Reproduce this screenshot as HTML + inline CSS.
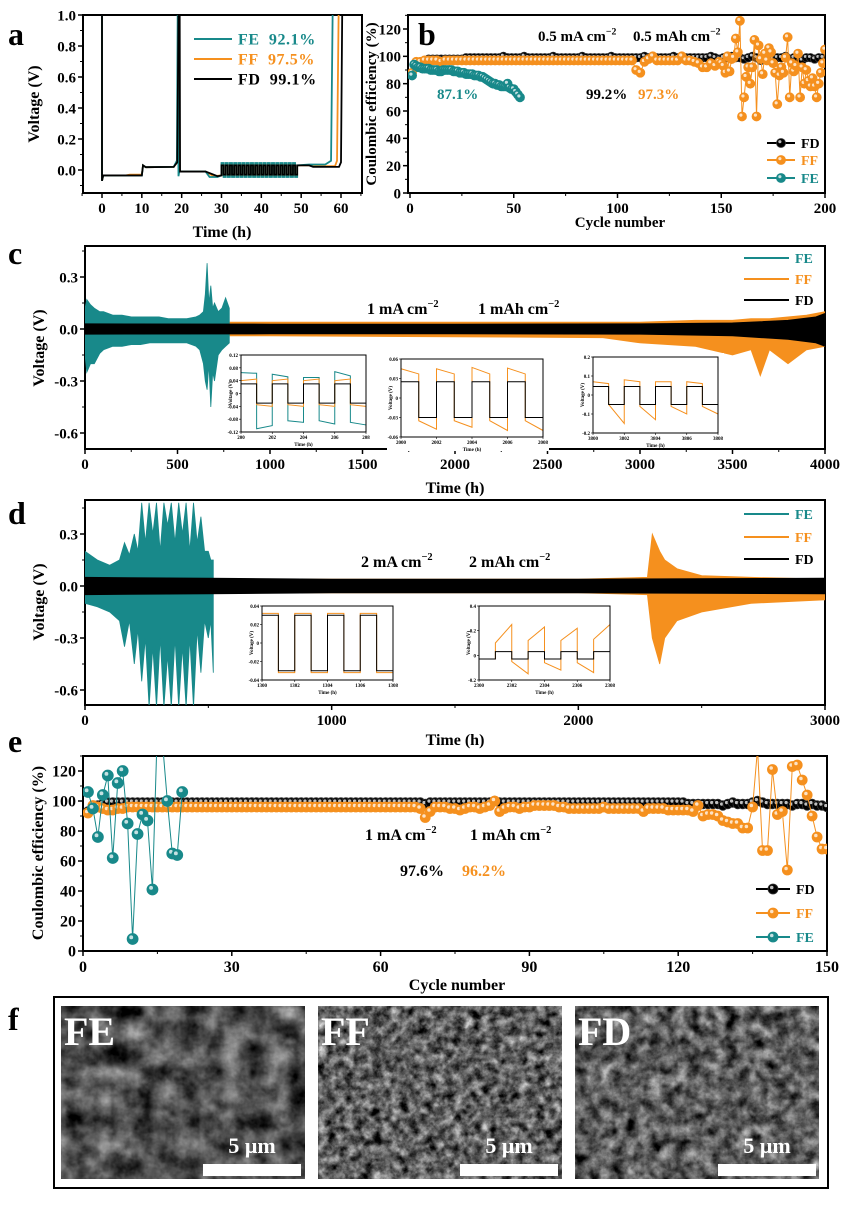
<!DOCTYPE html>
<html><head><meta charset="utf-8"><style>
html,body{margin:0;padding:0;background:#fff;}
svg{display:block;font-family:"Liberation Serif",serif;font-weight:bold;}
</style></head><body>
<svg id="fig" width="849" height="1207" viewBox="0 0 849 1207" xmlns="http://www.w3.org/2000/svg">
<defs>
<filter id="semA" x="0" y="0" width="100%" height="100%" color-interpolation-filters="sRGB"><feTurbulence type="fractalNoise" baseFrequency="0.045" numOctaves="4" seed="3"/><feColorMatrix type="matrix" values="0.33 0.33 0.33 0 0  0.33 0.33 0.33 0 0  0.33 0.33 0.33 0 0  0 0 0 0 1"/><feComponentTransfer><feFuncR type="linear" slope="1.5" intercept="-0.42"/><feFuncG type="linear" slope="1.5" intercept="-0.42"/><feFuncB type="linear" slope="1.5" intercept="-0.42"/></feComponentTransfer></filter>
<filter id="semB" x="0" y="0" width="100%" height="100%" color-interpolation-filters="sRGB"><feTurbulence type="fractalNoise" baseFrequency="0.11" numOctaves="4" seed="7"/><feColorMatrix type="matrix" values="0.33 0.33 0.33 0 0  0.33 0.33 0.33 0 0  0.33 0.33 0.33 0 0  0 0 0 0 1"/><feComponentTransfer><feFuncR type="linear" slope="2.0" intercept="-0.62"/><feFuncG type="linear" slope="2.0" intercept="-0.62"/><feFuncB type="linear" slope="2.0" intercept="-0.62"/></feComponentTransfer></filter>
<filter id="semC" x="0" y="0" width="100%" height="100%" color-interpolation-filters="sRGB"><feTurbulence type="fractalNoise" baseFrequency="0.08" numOctaves="4" seed="11"/><feColorMatrix type="matrix" values="0.33 0.33 0.33 0 0  0.33 0.33 0.33 0 0  0.33 0.33 0.33 0 0  0 0 0 0 1"/><feComponentTransfer><feFuncR type="linear" slope="1.7" intercept="-0.48"/><feFuncG type="linear" slope="1.7" intercept="-0.48"/><feFuncB type="linear" slope="1.7" intercept="-0.48"/></feComponentTransfer></filter>
<clipPath id="clipA"><rect x="83" y="15" width="279" height="178"/></clipPath>
<clipPath id="clipB"><rect x="408" y="15" width="417" height="178"/></clipPath>
<clipPath id="clipC"><rect x="85" y="246" width="740" height="203"/></clipPath>
<clipPath id="clipD"><rect x="85" y="500" width="740" height="205"/></clipPath>
<clipPath id="clipE"><rect x="83" y="756" width="744" height="195"/></clipPath>
</defs>
</svg>
<script>
// ---------- DATA ----------
const aFD_pre=[[0,1.0],[0,-0.07],[0.3,-0.035],[10,-0.035],[10.3,0.03],[11,0.018],[18,0.02],[18.9,0.05],[19.2,1.0],[19.5,1.0],[19.6,-0.01],[26,-0.01],[29,-0.04],[30,-0.035]];
const aFF_pre=[[0,1.0],[0,-0.07],[0.3,-0.035],[6,-0.035],[7,-0.03],[10,-0.03],[10.3,0.03],[11,0.018],[18,0.02],[18.9,0.05],[19.1,1.0],[19.3,-0.01],[26,-0.01],[28,-0.04],[30,-0.035]];
const aFE_pre=[[0,1.0],[0,-0.07],[0.3,-0.035],[10,-0.035],[10.3,0.03],[11,0.018],[18,0.02],[18.8,0.06],[19.0,1.0],[19.2,-0.04],[19.4,-0.01],[26,-0.01],[27,-0.045],[29,-0.045],[30,-0.035]];
const aFD_post=[[49,0.03],[52,0.03],[53,0.02],[59.5,0.02],[60,0.05],[60.3,1.0]];
const aFF_post=[[49,0.03],[52,0.03],[53,0.025],[58.5,0.025],[59,0.06],[59.4,1.0]];
const aFE_post=[[49,0.03],[52,0.035],[56,0.035],[57.5,0.06],[57.9,1.0]];
const aOscHigh=[0.03,0.035,0.045];
const aOscLow=[-0.03,-0.035,-0.045];
const aOscCycles=18;

const bFD=[86,93,96,97,98,98,98,98,98,98, 98,98,98,99,99,99,99,99,99,99, 99,99,100,99,99,99,99,100,99,99, 99,99,99,99,100,99,99,99,99,99, 99,100,99,99,99,99,99,99,100,99, 99,99,99,99,99,99,100,99,99,99, 99,99,99,100,99,99,99,99,99,99, 99,99,100,99,98,99,99,100,99,99, 98,99,100,99,97,99,100,98,99,99, 100,98,99,99,97,99,99,98,99,99];
const bFF_a=[88,96,96,97,97,97,97,96,97,97, 97,97,97,97,97,97,97,97,97,97, 97,97,97,97,97,97,97,97,97,97, 97,97,97,97,97,97,97,97,97,97, 97,97,97,97,97,97,97,97,97,97, 97,97,97,97,90,88,96,98,100,97, 97,97,97,97,97,100,97,97,96,95, 92,92,95,93,96];
const bFF_b=[95,93,88,100,89,98,99,113,103,126, 56,70,85,92,80,92,112,56,108,98, 87,102,97,106,103,95,88,65,86,92, 88,99,114,70,95,89,93,102,70,92, 80,90,82,78,84,78,70,80,88,95, 105];
const bFE=[86,94,93,92,92,91,91,91,91,90, 90,90,90,89,89,90,90,90,90,90, 89,89,89,88,88,88,87,87,87,87, 86,86,86,85,85,84,83,82,81,80, 80,79,79,78,78,78,80,77,76,76, 74,72,70];

const cFE_t=[0,10,30,50,80,100,150,200,250,300,350,400,450,500,550,600,620,640,650,660,670,680,690,700,720,740,760,780];
const cFE_hi=[0.12,0.17,0.14,0.12,0.1,0.1,0.08,0.08,0.07,0.07,0.07,0.07,0.06,0.06,0.06,0.07,0.08,0.1,0.2,0.38,0.15,0.25,0.12,0.15,0.1,0.12,0.18,0.12];
const cFE_lo=[-0.15,-0.25,-0.2,-0.2,-0.14,-0.12,-0.1,-0.1,-0.09,-0.09,-0.08,-0.08,-0.08,-0.08,-0.08,-0.1,-0.12,-0.2,-0.3,-0.35,-0.2,-0.45,-0.25,-0.3,-0.15,-0.12,-0.1,-0.08];
const cFF_t=[0,1000,2000,2800,3000,3300,3500,3600,3650,3700,3800,3900,4000];
const cFF_hi=[0.04,0.04,0.04,0.04,0.04,0.05,0.05,0.06,0.06,0.06,0.07,0.08,0.1];
const cFF_lo=[-0.04,-0.04,-0.045,-0.05,-0.08,-0.1,-0.15,-0.12,-0.27,-0.12,-0.2,-0.12,-0.1];
const cFD_t=[0,1000,2000,3000,3500,3800,3950,4000];
const cFD_hi=[0.03,0.028,0.028,0.03,0.035,0.05,0.07,0.09];
const cFD_lo=[-0.03,-0.028,-0.028,-0.03,-0.04,-0.06,-0.08,-0.1];

const dFE_t=[0,50,100,140,160,180,200,215,230,245,260,275,290,305,320,335,350,365,380,395,410,425,440,455,470,485,500,510,520];
const dFE_hi=[0.2,0.15,0.12,0.15,0.25,0.18,0.3,0.2,0.48,0.25,0.48,0.3,0.48,0.2,0.48,0.35,0.48,0.25,0.48,0.3,0.48,0.2,0.48,0.25,0.4,0.2,0.2,0.15,0.15];
const dFE_lo=[-0.1,-0.12,-0.15,-0.2,-0.35,-0.2,-0.45,-0.25,-0.55,-0.3,-0.7,-0.35,-0.7,-0.3,-0.7,-0.4,-0.7,-0.3,-0.7,-0.35,-0.7,-0.3,-0.7,-0.25,-0.5,-0.2,-0.3,-0.2,-0.5];
const dFF_t=[0,1000,2000,2280,2300,2330,2350,2400,2500,2700,3000];
const dFF_hi=[0.04,0.04,0.04,0.05,0.3,0.2,0.15,0.1,0.06,0.05,0.04];
const dFF_lo=[-0.04,-0.04,-0.04,-0.05,-0.3,-0.45,-0.3,-0.2,-0.15,-0.1,-0.08];
const dFD_t=[0,500,1000,2000,3000];
const dFD_hi=[0.05,0.045,0.04,0.04,0.045];
const dFD_lo=[-0.05,-0.045,-0.04,-0.04,-0.045];

const c1FD_s=[0.03,-0.03,0.03,-0.03,0.03,-0.03,0.03,-0.03], c1FD_e=[0.03,-0.03,0.03,-0.03,0.03,-0.03,0.03,-0.03];
const c1FF_s=[0.04,-0.035,0.04,-0.035,0.04,-0.035,0.04,-0.035], c1FF_e=[0.045,-0.04,0.045,-0.04,0.045,-0.04,0.045,-0.04];
const c1FE_s=[0.065,-0.11,0.06,-0.085,0.05,-0.085,0.068,-0.09], c1FE_e=[0.063,-0.1,0.052,-0.09,0.05,-0.095,0.055,-0.098];
const c2FD_s=[0.025,-0.03,0.025,-0.03,0.025,-0.03,0.025,-0.03], c2FD_e=[0.025,-0.03,0.025,-0.03,0.025,-0.03,0.025,-0.03];
const c2FF_s=[0.045,-0.035,0.045,-0.035,0.047,-0.035,0.046,-0.035], c2FF_e=[0.037,-0.048,0.037,-0.045,0.037,-0.05,0.037,-0.05];
const c3FD_s=[0.045,-0.05,0.045,-0.05,0.045,-0.05,0.045,-0.05], c3FD_e=[0.045,-0.05,0.045,-0.05,0.045,-0.05,0.045,-0.05];
const c3FF_s=[0.07,-0.05,0.08,-0.06,0.07,-0.06,0.07,-0.06], c3FF_e=[0.06,-0.15,0.07,-0.13,0.07,-0.1,0.06,-0.1];
const d1FD_s=[0.03,-0.03,0.03,-0.03,0.03,-0.03,0.03,-0.03], d1FD_e=[0.03,-0.03,0.03,-0.03,0.03,-0.03,0.03,-0.03];
const d1FF_s=[0.032,-0.032,0.032,-0.032,0.032,-0.032,0.032,-0.032], d1FF_e=[0.032,-0.032,0.032,-0.032,0.032,-0.032,0.032,-0.032];
const d2FD_s=[-0.03,0.03,-0.03,0.03,-0.03,0.03,-0.03,0.03], d2FD_e=[-0.03,0.03,-0.03,0.03,-0.03,0.03,-0.03,0.03];
const d2FF_s=[-0.03,0.1,-0.05,0.12,-0.06,0.12,-0.06,0.13], d2FF_e=[-0.03,0.25,-0.15,0.23,-0.12,0.22,-0.14,0.25];

const eFD=[93,96,97,98,99,99,99,99,99,99, 99,99,99,99,99,99,99,99,99,99, 99,99,99,99,99,99,99,99,99,99, 99,99,99,99,99,99,99,99,99,99, 99,99,99,99,99,99,99,99,99,99, 99,99,99,99,99,99,99,99,99,99, 99,99,99,99,99,99,99,99,98,99, 99,99,99,99,99,99,99,99,99,99, 99,99,100,99,99,99,99,99,99,99, 99,99,99,99,99,99,99,99,99,99, 99,99,99,99,99,99,99,99,99,99, 99,99,99,99,99,99,99,99,99,99, 99,98,98,98,98,98,98,98,97,98, 99,98,98,98,99,100,99,98,98,98, 98,98,97,98,98,97,98,97,97,96];
const eFF=[92,97,96,95,94,94,95,95,96,96, 96,96,96,96,96,96,96,96,96,96, 96,96,96,96,96,96,96,96,96,96, 96,96,96,96,96,96,96,96,96,96, 96,96,96,96,96,96,96,96,96,96, 96,96,96,96,96,96,96,96,96,96, 96,96,96,96,96,96,96,95,89,93, 96,96,96,95,95,94,95,96,96,95, 96,97,100,93,95,96,96,95,96,96, 97,97,97,97,97,96,96,95,95,95, 95,95,95,95,96,95,95,95,95,95, 95,95,93,95,95,95,95,94,94,94, 94,94,93,97,90,91,91,90,87,86, 85,85,82,82,96,135,67,67,121,91, 93,54,123,124,114,104,90,76,68,68];
const eFE=[106,95,76,104,117,62,112,120,85,8, 78,91,87,41,150,140,100,65,64,106];

const aXticks=[0,10,20,30,40,50,60], aYticks=[0,0.2,0.4,0.6,0.8,1.0];
const bXticks=[0,50,100,150,200], bYticks=[0,20,40,60,80,100,120];
const cXticks=[0,500,1000,1500,2000,2500,3000,3500,4000], cYticks=[0.3,0,-0.3,-0.6];
const dXticks=[0,1000,2000,3000], dYticks=[0.3,0,-0.3,-0.6];
const eXticks=[0,30,60,90,120,150], eYticks=[0,20,40,60,80,100,120];

// ---------- DRAW ----------
const NS='http://www.w3.org/2000/svg';
const svg=document.getElementById('fig');
const TEAL='#18898a', ORANGE='#f5901e', BLACK='#000';
function mk(tag,attrs,parent){const e=document.createElementNS(NS,tag);for(const k in attrs)e.setAttribute(k,attrs[k]);(parent||svg).appendChild(e);return e;}
function lin(d0,d1,p0,p1){return v=>p0+(v-d0)*(p1-p0)/(d1-d0);}
function txt(x,y,s,size,fill,anchor,parent){const t=mk('text',{x:x,y:y,'font-size':size,fill:fill||'#000','text-anchor':anchor||'start'},parent);t.textContent=s;return t;}
function supTxt(x,y,base,sup,size,parent){const t=mk('text',{x:x,y:y,'font-size':size,fill:'#000'},parent);const a=mk('tspan',{},t);a.textContent=base;const b=mk('tspan',{dy:-size*0.45,'font-size':size*0.65},t);b.textContent=sup;return t;}
function group(name,clip){const g=mk('g',clip?{'clip-path':'url(#'+clip+')'}:{});return g;}
function frame(x0,y0,x1,y1,g){return mk('rect',{x:x0,y:y0,width:x1-x0,height:y1-y0,fill:'none',stroke:'#000','stroke-width':2},g);}
function xAxis(sx,vals,yb,fs,fmt,g,len){for(const v of vals){mk('line',{x1:sx(v),x2:sx(v),y1:yb,y2:yb+(len||5),stroke:'#000','stroke-width':1.5},g);const t=txt(sx(v),yb+fs+5,fmt?fmt(v):String(v),fs,'#000','middle',g);}}
function yAxis(sy,vals,xl,fs,fmt,g,len){for(const v of vals){mk('line',{x1:xl-(len||5),x2:xl,y1:sy(v),y2:sy(v),stroke:'#000','stroke-width':1.5},g);const t=txt(xl-(len||5)-2,sy(v)+fs*0.35,fmt?fmt(v):String(v),fs,'#000','end',g);}}
function minorX(sx,from,to,step,yb,g){for(let v=from;v<=to+1e-9;v+=step)mk('line',{x1:sx(v),x2:sx(v),y1:yb,y2:yb+3,stroke:'#000','stroke-width':1},g);}
function minorY(sy,from,to,step,xl,g){for(let v=from;v<=to+1e-9;v+=step)mk('line',{x1:xl-3,x2:xl,y1:sy(v),y2:sy(v),stroke:'#000','stroke-width':1},g);}
function ytitle(x,y,s,size,g){const t=txt(0,0,s,size,'#000','middle',g);t.setAttribute('transform','translate('+x+','+y+') rotate(-90)');return t;}
function poly(pts,color,w,g){return mk('polyline',{points:pts.map(p=>p[0].toFixed(2)+','+p[1].toFixed(2)).join(' '),fill:'none',stroke:color,'stroke-width':w,'stroke-linejoin':'miter'},g);}
function band(sx,sy,T,HI,LO,color,g){const pts=[];for(let i=0;i<T.length;i++)pts.push(sx(T[i]).toFixed(1)+','+sy(HI[i]).toFixed(1));for(let i=T.length-1;i>=0;i--)pts.push(sx(T[i]).toFixed(1)+','+sy(LO[i]).toFixed(1));return mk('polygon',{points:pts.join(' '),fill:color,stroke:color,'stroke-width':0.8},g);}
function marker(x,y,r,color,g){const c=mk('circle',{cx:x,cy:y,r:r,fill:color,stroke:color==BLACK?'#333':color,'stroke-width':0.8},g);mk('circle',{cx:x-r*0.25,cy:y-r*0.3,r:r*0.35,fill:'#fff','fill-opacity':0.75},g);return c;}
function scatterSeries(sx,sy,C,V,color,r,g){const pts=C.map((c,i)=>[sx(c),sy(V[i])]);poly(pts,color,1,g);for(let i=0;i<C.length;i++){const m=marker(sx(C[i]),sy(V[i]),r,color,g);}}
function legendLine(x,y,len,color,label,fs,g,withMarker,r){mk('line',{x1:x,x2:x+len,y1:y,y2:y,stroke:color,'stroke-width':2},g);if(withMarker)marker(x+len/2,y,r,color,g);const t=txt(x+len+6,y+fs*0.35,label,fs,color,'start',g);return t;}

[['a',8,45],['b',418,45],['c',8,264],['d',8,524],['e',8,752],['f',8,1030]].forEach(([s,x,y])=>{const t=txt(x,y,s,32,'#000');});

// ===== Panel a =====
(function(){
 const g=group('panel-a-voltage-profile');
 const sx=lin(0,60,102,341), sy=lin(0,1,170,15);
 const pg=group('panel-a-curves','clipA');
 const series=[[aFF_pre,aFF_post,1,ORANGE],[aFE_pre,aFE_post,2,TEAL],[aFD_pre,aFD_post,0,BLACK]];
 const names=['curve-ff','curve-fe','curve-fd'];
 series.forEach((s,k)=>{
  const pts=s[0].map(p=>[sx(p[0]),sy(p[1])]);
  const per=(49-30)/aOscCycles;
  for(let i=0;i<aOscCycles;i++){const t=30+i*per;pts.push([sx(t),sy(aOscHigh[s[2]])],[sx(t+per/2),sy(aOscHigh[s[2]])],[sx(t+per/2),sy(aOscLow[s[2]])],[sx(t+per),sy(aOscLow[s[2]])]);}
  s[1].forEach(p=>pts.push([sx(p[0]),sy(p[1])]));
  const l=poly(pts,s[3],1.8,pg);
  
 });
 frame(83,15,362,193,g);
 xAxis(sx,aXticks,193,15,null,g);
 minorX(sx,-5,65,5,193,g);
 yAxis(sy,aYticks,83,15,v=>v.toFixed(1),g);
 minorY(sy,-0.1,1,0.1,83,g);
 const xt=txt(222,237,'Time (h)',16,'#000','middle',g);
 const yt=ytitle(39,104,'Voltage (V)',16,g);
 const lg=group('panel-a-legend');
 let t=legendLine(194,39,38,TEAL,'FE\u00a0\u00a092.1%',16,lg);t.setAttribute('letter-spacing','0.6');
 t=legendLine(194,59,38,ORANGE,'FF\u00a0\u00a097.5%',16,lg);t.setAttribute('letter-spacing','0.6');
 t=legendLine(194,79,38,BLACK,'FD\u00a0\u00a099.1%',16,lg);t.setAttribute('letter-spacing','0.6');
})();

// ===== Panel b =====
(function(){
 const g=group('panel-b-coulombic-efficiency');
 const sx=lin(0,200,410,825), sy=lin(0,120,193,29);
 const pg=group('panel-b-series','clipB');
 const cFD=bFD.map((v,i)=>1+i*2);
 const cFFa=bFF_a.map((v,i)=>1+i*2), cFFb=bFF_b.map((v,i)=>150+i);
 const cFE=bFE.map((v,i)=>1+i);
 scatterSeries(sx,sy,cFD,bFD,BLACK,4.2,pg);
 scatterSeries(sx,sy,cFFa.concat(cFFb),bFF_a.concat(bFF_b),ORANGE,4.5,pg);
 scatterSeries(sx,sy,cFE,bFE,TEAL,4.5,pg);
 frame(408,15,825,193,g);
 xAxis(sx,bXticks,193,15,null,g);
 minorX(sx,0,200,25,193,g);
 yAxis(sy,bYticks,408,15,null,g);
 minorY(sy,10,130,20,408,g);
 const xt=txt(620,227,'Cycle number',15,'#000','middle',g);
 const yt=ytitle(376,104,'Coulombic efficiency (%)',15,g);
 let t=supTxt(538,41,'0.5 mA cm','−2',15,g);
 t=supTxt(633,41,'0.5 mAh cm','−2',15,g);
 t=txt(437,99,'87.1%',15,TEAL,'start',g);
 t=txt(586,99,'99.2%',15,BLACK,'start',g);
 t=txt(638,99,'97.3%',15,ORANGE,'start',g);
 const lg=group('panel-b-legend');
 t=legendLine(767,143,28,BLACK,'FD',14,lg,true,4.5);
 t=legendLine(767,160,28,ORANGE,'FF',14,lg,true,4.5);
 t=legendLine(767,178,28,TEAL,'FE',14,lg,true,4.5);
})();

function inset(name,box,t0,yMin,yMax,yt,ser,labelPad){
 const g=group(name);
 mk('rect',{x:box[0]-labelPad,y:box[1]-4,width:box[2]-box[0]+labelPad+6,height:box[3]-box[1]+18,fill:'#fff'},g);
 const sx=lin(t0,t0+8,box[0],box[2]), sy=lin(yMin,yMax,box[3],box[1]);
 ser.forEach(s=>{
  const pts=[];
  for(let i=0;i<8;i++){pts.push([sx(t0+i),sy(s[0][i])],[sx(t0+i+1),sy(s[1][i])]);}
  const l=poly(pts,s[2],1,g);
 });
 frame(box[0],box[1],box[2],box[3],g).setAttribute('stroke-width',1);
 for(let i=0;i<=8;i+=2){mk('line',{x1:sx(t0+i),x2:sx(t0+i),y1:box[3],y2:box[3]+2,stroke:'#000','stroke-width':0.6},g);txt(sx(t0+i),box[3]+7,String(t0+i),5,'#000','middle',g);}
 yt.forEach(v=>{mk('line',{x1:box[0]-2,x2:box[0],y1:sy(v),y2:sy(v),stroke:'#000','stroke-width':0.6},g);txt(box[0]-3,sy(v)+2,String(v),5,'#000','end',g);});
 txt((box[0]+box[2])/2,box[3]+14,'Time (h)',5,'#000','middle',g);
 ytitle(box[0]-labelPad+5,(box[1]+box[3])/2,'Voltage (V)',5,g);
}

// ===== Panel c =====
(function(){
 const g=group('panel-c-cycling-1mA');
 const sx=lin(0,4000,85,825), sy=lin(0,0.3,329,277);
 const pg=group('panel-c-series','clipC');
 band(sx,sy,cFF_t,cFF_hi,cFF_lo,ORANGE,pg);
 band(sx,sy,cFE_t,cFE_hi,cFE_lo,TEAL,pg);
 band(sx,sy,cFD_t,cFD_hi,cFD_lo,BLACK,pg);
 inset('inset-c-200h',[241,355,366,432],200,-0.12,0.12,[0.12,0.08,0.04,0,-0.04,-0.08,-0.12],[[c1FE_s,c1FE_e,TEAL],[c1FF_s,c1FF_e,ORANGE],[c1FD_s,c1FD_e,BLACK]],14);
 inset('inset-c-2000h',[401,359,543,437],2000,-0.06,0.06,[0.06,0.03,0,-0.03,-0.06],[[c2FF_s,c2FF_e,ORANGE],[c2FD_s,c2FD_e,BLACK]],14);
 inset('inset-c-3800h',[593,357,718,433],3800,-0.2,0.2,[0.2,0.1,0,-0.1,-0.2],[[c3FF_s,c3FF_e,ORANGE],[c3FD_s,c3FD_e,BLACK]],14);
 frame(85,246,825,449,g);
 xAxis(sx,cXticks,449,15,null,g);
 minorX(sx,250,3750,500,449,g);
 yAxis(sy,cYticks,85,15,v=>v.toFixed(1),g);
 minorY(sy,-0.45,0.45,0.3,85,g);
 const xt=txt(455,493,'Time (h)',16,'#000','middle',g);
 const yt=ytitle(44,348,'Voltage (V)',16,g);
 let t=supTxt(367,314,'1 mA cm','−2',16,g);
 t=supTxt(478,314,'1 mAh cm','−2',16,g);
 const lg=group('panel-c-legend');
 t=legendLine(744,258,45,TEAL,'FE',14,lg);
 t=legendLine(744,279,45,ORANGE,'FF',14,lg);
 t=legendLine(744,300,45,BLACK,'FD',14,lg);
})();

// ===== Panel d =====
(function(){
 const g=group('panel-d-cycling-2mA');
 const sx=lin(0,3000,85,825), sy=lin(0,0.3,586,534);
 const pg=group('panel-d-series','clipD');
 band(sx,sy,dFF_t,dFF_hi,dFF_lo,ORANGE,pg);
 band(sx,sy,dFE_t,dFE_hi,dFE_lo,TEAL,pg);
 band(sx,sy,dFD_t,dFD_hi,dFD_lo,BLACK,pg);
 inset('inset-d-1300h',[262,606,393,680],1300,-0.04,0.04,[0.04,0.02,0,-0.02,-0.04],[[d1FF_s,d1FF_e,ORANGE],[d1FD_s,d1FD_e,BLACK]],14);
 inset('inset-d-2300h',[479,606,610,680],2300,-0.2,0.4,[0.4,0.2,0,-0.2],[[d2FF_s,d2FF_e,ORANGE],[d2FD_s,d2FD_e,BLACK]],14);
 frame(85,500,825,705,g);
 xAxis(sx,dXticks,705,15,null,g);
 minorX(sx,500,2500,1000,705,g);
 yAxis(sy,dYticks,85,15,v=>v.toFixed(1),g);
 minorY(sy,-0.45,0.45,0.3,85,g);
 const xt=txt(455,745,'Time (h)',16,'#000','middle',g);
 const yt=ytitle(44,602,'Voltage (V)',16,g);
 let t=supTxt(361,567,'2 mA cm','−2',16,g);
 t=supTxt(469,567,'2 mAh cm','−2',16,g);
 const lg=group('panel-d-legend');
 t=legendLine(744,514,45,TEAL,'FE',14,lg);
 t=legendLine(744,537,45,ORANGE,'FF',14,lg);
 t=legendLine(744,559,45,BLACK,'FD',14,lg);
})();

// ===== Panel e =====
(function(){
 const g=group('panel-e-coulombic-efficiency');
 const sx=lin(0,150,83,827), sy=lin(0,120,951,771);
 const pg=group('panel-e-series','clipE');
 scatterSeries(sx,sy,eFD.map((v,i)=>1+i),eFD,BLACK,4.8,pg);
 scatterSeries(sx,sy,eFF.map((v,i)=>1+i),eFF,ORANGE,5,pg);
 scatterSeries(sx,sy,eFE.map((v,i)=>1+i),eFE,TEAL,5.5,pg);
 frame(83,756,827,951,g);
 xAxis(sx,eXticks,951,16,null,g);
 minorX(sx,15,135,30,951,g);
 yAxis(sy,eYticks,83,16,null,g);
 minorY(sy,10,130,20,83,g);
 const xt=txt(457,990,'Cycle number',16,'#000','middle',g);
 const yt=ytitle(43,853,'Coulombic efficiency (%)',16,g);
 let t=supTxt(365,840,'1 mA cm','−2',16,g);
 t=supTxt(470,840,'1 mAh cm','−2',16,g);
 t=txt(400,876,'97.6%',16,BLACK,'start',g);
 t=txt(462,876,'96.2%',16,ORANGE,'start',g);
 const lg=group('panel-e-legend');
 t=legendLine(756,889,34,BLACK,'FD',14,lg,true,5);
 t=legendLine(756,913,34,ORANGE,'FF',14,lg,true,5);
 t=legendLine(756,937,34,TEAL,'FE',14,lg,true,5);
})();

// ===== Panel f =====
(function(){
 const g=group('panel-f-sem-images');
 mk('rect',{x:54,y:997,width:774,height:191,fill:'#fff',stroke:'#000','stroke-width':2},g);
 const imgs=[['FE',61,'semA',203],['FF',318,'semB',460],['FD',575,'semC',718]];
 imgs.forEach(([lab,x,f,bx])=>{
  const ig=group('sem-image-'+lab.toLowerCase());
  g.appendChild(ig);
  mk('rect',{x:x,y:1006,width:244,height:173,fill:'#4a4a4a'},ig);
  mk('rect',{x:x,y:1006,width:244,height:173,filter:'url(#'+f+')'},ig);
  const t=txt(x+3,1045,lab,40,'#fff','start',ig);
  const b=mk('rect',{x:bx,y:1164,width:98,height:12,fill:'#fff'},ig);
  const s=txt(bx+49,1153,'5 μm',22,'#fff','middle',ig);
 });
})();
</script>
</body></html>
